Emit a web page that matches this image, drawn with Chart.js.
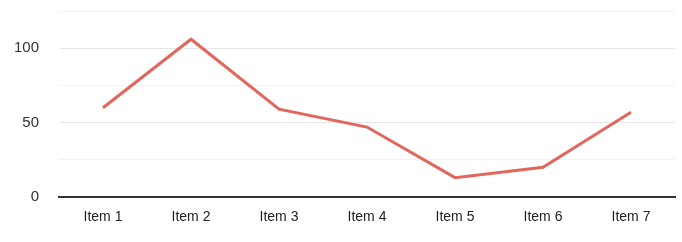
<!DOCTYPE html>
<html>
<head>
<meta charset="utf-8">
<script src="https://cdn.jsdelivr.net/npm/chart.js@4/dist/chart.umd.min.js"></script>
<style>
  html, body { margin: 0; padding: 0; background: #fff; }
  #wrap { width: 682px; height: 242px; }
</style>
</head>
<body>
<div id="wrap"><canvas id="myChart" width="682" height="242"></canvas></div>
<script>
var categorias = ["Item 1", "Item 2", "Item 3", "Item 4", "Item 5", "Item 6", "Item 7"];
var valores = [60, 106, 59, 47, 13, 20, 57];
var yMin = 0;
var yMax = 125;
var yPaso = 25;
var yEtiquetas = [0, 50, 100];

var ctx = document.getElementById("myChart").getContext("2d");

var chart = new Chart(ctx, {
  type: "line",
  data: {
    labels: categorias,
    datasets: [
      {
        data: valores,
        borderColor: "#e2665c",
        borderWidth: 3,
        pointRadius: 0,
        tension: 0,
        fill: false,
      },
    ],
  },
  options: {
    responsive: false,
    animation: false,
    layout: { padding: { left: 0, right: 7, top: 11, bottom: 0 } },
    scales: {
      x: {
        offset: true,
        grid: { display: false, drawTicks: false },
        border: { display: true, color: "#333", width: 2 },
        ticks: {
          color: "#222",
          padding: 12,
          font: { family: "Liberation Sans", size: 14 },
        },
        afterFit: function (scale) { scale.height = 45; },
      },
      y: {
        min: yMin,
        max: yMax,
        grid: {
          drawTicks: false,
          color: function (c) {
            return yEtiquetas.indexOf(c.tick.value) >= 0 ? "#e6e6e6" : "#f3f3f3";
          },
        },
        border: { display: false },
        ticks: {
          stepSize: yPaso,
          color: "#333",
          padding: 20,
          font: { family: "Liberation Sans", size: 15 },
          callback: function (v) {
            return yEtiquetas.indexOf(v) >= 0 ? v : "";
          },
        },
        afterFit: function (scale) {
          scale.width = 59;
          scale.paddingTop = 0;
          scale.paddingBottom = 0;
        },
      },
    },
    plugins: {
      legend: { display: false },
      tooltip: { enabled: false },
    },
  },
});
</script>
</body>
</html>
